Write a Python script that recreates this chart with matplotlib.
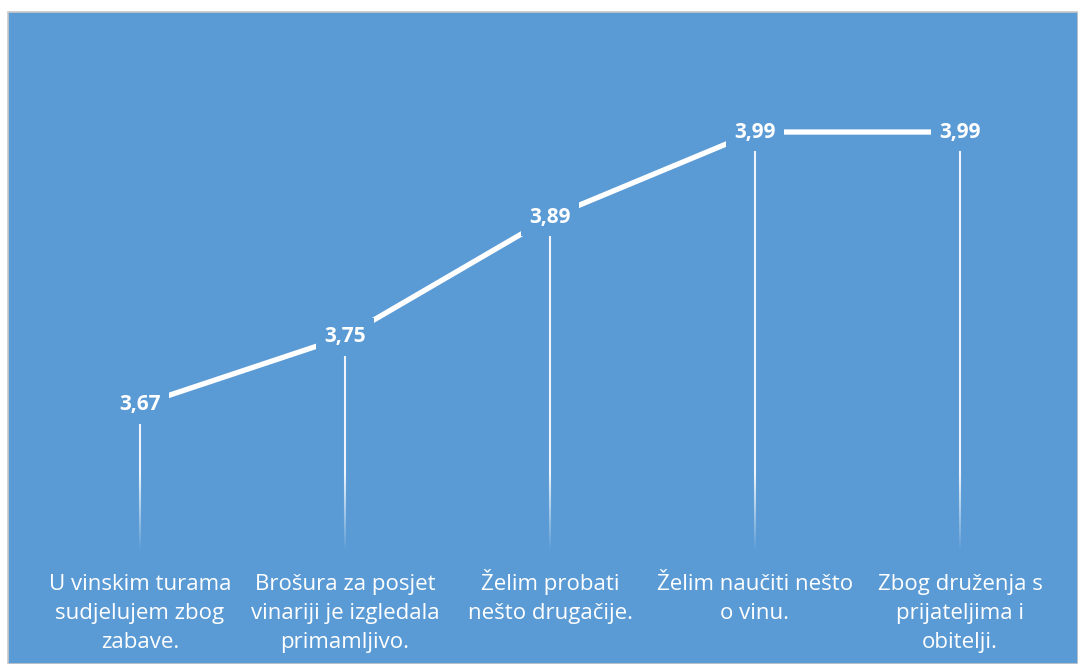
import matplotlib
matplotlib.use("Agg")
import matplotlib.pyplot as plt
import numpy as np
from matplotlib.patches import Rectangle
from matplotlib.collections import LineCollection

categories = [
    "U vinskim turama\nsudjelujem zbog\nzabave.",
    "Brošura za posjet\nvinariji je izgledala\nprimamljivo.",
    "Želim probati\nnešto drugačije.",
    "Želim naučiti nešto\no vinu.",
    "Zbog druženja s\nprijateljima i\nobitelji.",
]
values = [3.67, 3.75, 3.89, 3.99, 3.99]
value_labels = ["3,67", "3,75", "3,89", "3,99", "3,99"]

BLUE = "#5B9BD5"
W, H = 1078, 664
fig = plt.figure(figsize=(W / 100, H / 100), dpi=100, facecolor="white")

# blue panel with grey border
panel = Rectangle((8 / W, 0), 1 - 8 / W, (H - 12) / H, transform=fig.transFigure,
                  facecolor=BLUE, edgecolor="#C8C8C8", linewidth=1.2, zorder=-10)
fig.add_artist(panel)

ax = fig.add_axes([37.5 / W, (H - 550) / H, 1025 / W, 490 / H])
ax.set_zorder(5)
ax.set_facecolor("none")
ymin, ymax = 3.5, 3.5 + 490 / 853
ax.set_ylim(ymin, ymax)
x = np.arange(len(values))
ax.set_xlim(-0.5, len(values) - 0.5)
for s in ax.spines.values():
    s.set_visible(False)
ax.set_xticks([])
ax.set_yticks([])

# drop lines with fade
for xi, v in zip(x, values):
    n = 120
    ys = np.linspace(v, ymin, n + 1)
    segs = [[(xi, ys[i]), (xi, ys[i + 1])] for i in range(n)]
    fade_start = ymin + 0.09
    alphas = []
    for i in range(n):
        ym = 0.5 * (ys[i] + ys[i + 1])
        a = 1.0 if ym >= fade_start else max(0.0, (ym - ymin) / (fade_start - ymin))
        alphas.append(a * 0.9)
    cols = [(1, 1, 1, a) for a in alphas]
    lc = LineCollection(segs, colors=cols, linewidths=1.5, zorder=1)
    ax.add_collection(lc)

ax.plot(x, values, color="white", linewidth=3.8, solid_capstyle="butt", zorder=2)

for xi, v, lab in zip(x, values, value_labels):
    ax.text(xi, v, lab, ha="center", va="center", color="white", fontsize=15,
            fontweight="bold", family=["Open Sans", "DejaVu Sans"], zorder=3,
            bbox=dict(boxstyle="square,pad=0.4", facecolor=BLUE, edgecolor="none"))

first_base = 40 * 0.72   # points below axis bottom
pitch = 29 * 0.72
for xi, c in zip(x, categories):
    for i, line in enumerate(c.split("\n")):
        ax.annotate(line, xy=(xi, 0), xycoords=ax.get_xaxis_transform(),
                    xytext=(0, -(first_base + i * pitch)), textcoords="offset points",
                    ha="center", va="baseline", color="white", fontsize=16,
                    family=["Open Sans", "DejaVu Sans"], annotation_clip=False)

fig.savefig("out.png", dpi=100, facecolor="white")
